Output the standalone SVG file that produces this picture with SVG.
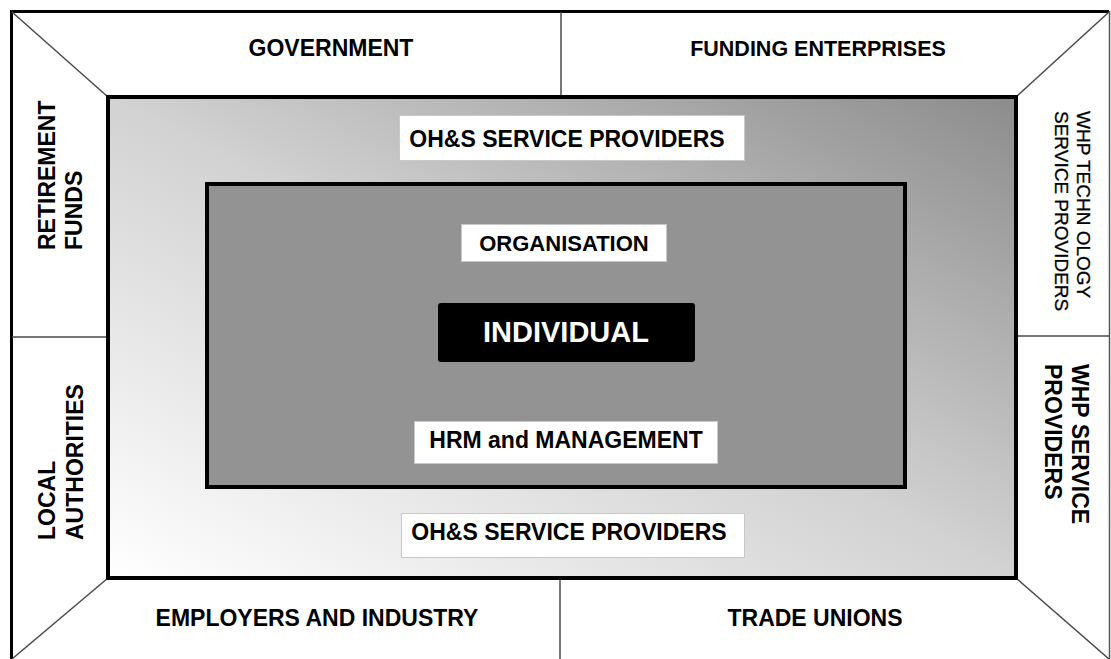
<svg xmlns="http://www.w3.org/2000/svg" width="1111" height="659" viewBox="0 0 1111 659">
  <defs>
    <linearGradient id="ringFill" x1="0" y1="1" x2="1" y2="0">
      <stop offset="0" stop-color="#ffffff"/>
      <stop offset="0.5" stop-color="#d2d2d2"/>
      <stop offset="1" stop-color="#8c8c8c"/>
    </linearGradient>
    <style>
      .lbl { font-family: "Liberation Sans", Arial, sans-serif; font-weight: bold; font-size: 23px; fill: #000; }
      .thin { font-family: "Liberation Sans", Arial, sans-serif; font-weight: normal; font-size: 19px; fill: #000; stroke: #000; stroke-width: 0.3; }
      .mid { text-anchor: middle; }
      .tag { fill: #ffffff; stroke: #c8c8c8; stroke-width: 1; }
      .div { stroke: #4a4a4a; stroke-width: 1.5; fill: none; }
    </style>
  </defs>

  <rect width="1111" height="659" fill="#ffffff"/>

  <!-- outer frame: heavy left and top edges, light right edge -->
  <path id="frame" d="M11.5 662 V11.5 H1109" fill="none" stroke="#000" stroke-width="3"/>
  <line x1="1109.5" y1="11" x2="1109.5" y2="659" stroke="#555" stroke-width="1.5"/>

  <!-- corner diagonals and sector dividers -->
  <g id="connectors">
    <line class="div" x1="12" y1="12" x2="108" y2="97"/>
    <line class="div" x1="1109" y1="12" x2="1016" y2="97"/>
    <line class="div" x1="12" y1="659" x2="108" y2="578"/>
    <line class="div" x1="1109" y1="659" x2="1016" y2="578"/>
    <line class="div" x1="561" y1="12" x2="561" y2="97"/>
    <line class="div" x1="560" y1="578" x2="560" y2="659"/>
    <line class="div" x1="12" y1="337" x2="108" y2="337"/>
    <line class="div" x1="1016" y1="336" x2="1109" y2="336"/>
  </g>

  <!-- outer sectors -->
  <g id="government"><text class="lbl mid" x="331" y="56">GOVERNMENT</text></g>
  <g id="funding-enterprises"><text class="lbl mid" x="818" y="56" style="font-size:21.5px">FUNDING ENTERPRISES</text></g>
  <g id="employers-industry"><text class="lbl mid" x="317" y="626">EMPLOYERS AND INDUSTRY</text></g>
  <g id="trade-unions"><text class="lbl mid" x="815" y="626">TRADE UNIONS</text></g>

  <g id="retirement-funds" transform="translate(55 250) rotate(-90)">
    <text class="lbl" x="0" y="0">RETIREMENT</text>
    <text class="lbl" x="0" y="27">FUNDS</text>
  </g>
  <g id="local-authorities" transform="translate(55 540) rotate(-90)">
    <text class="lbl" x="0" y="0">LOCAL</text>
    <text class="lbl" x="0" y="28">AUTHORITIES</text>
  </g>
  <g id="whp-technology" transform="translate(1077 111) rotate(90)">
    <text class="thin" x="0" y="0">WHP TECHN OLOGY</text>
    <text class="thin" x="0" y="22">SERVICE PROVIDERS</text>
  </g>
  <g id="whp-service" transform="translate(1072 364) rotate(90)">
    <text class="lbl" x="0" y="0">WHP SERVICE</text>
    <text class="lbl" x="0" y="27">PROVIDERS</text>
  </g>

  <!-- OH&S ring -->
  <g id="ohs-ring">
    <rect x="108" y="97" width="908" height="481" fill="url(#ringFill)" stroke="#000" stroke-width="4"/>
    <rect class="tag" x="399.5" y="115.5" width="345" height="45"/>
    <text class="lbl mid" x="567" y="147">OH&amp;S SERVICE PROVIDERS</text>
    <rect class="tag" x="401.5" y="513.5" width="343" height="44"/>
    <text class="lbl mid" x="569" y="540">OH&amp;S SERVICE PROVIDERS</text>
  </g>

  <!-- organisation -->
  <g id="organisation">
    <rect x="207" y="184" width="698" height="303" fill="#939393" stroke="#000" stroke-width="4"/>
    <rect class="tag" x="461.5" y="224.5" width="205" height="37"/>
    <text class="lbl mid" x="564" y="251" style="font-size:22px">ORGANISATION</text>
    <rect class="tag" x="414.5" y="421.5" width="303" height="42"/>
    <text class="lbl mid" x="566" y="448">HRM and MANAGEMENT</text>
  </g>

  <!-- individual -->
  <g id="individual">
    <rect x="438" y="303" width="257" height="59" rx="3" fill="#000"/>
    <text class="lbl mid" x="566" y="342" style="font-size:29px;fill:#fff">INDIVIDUAL</text>
  </g>
</svg>
